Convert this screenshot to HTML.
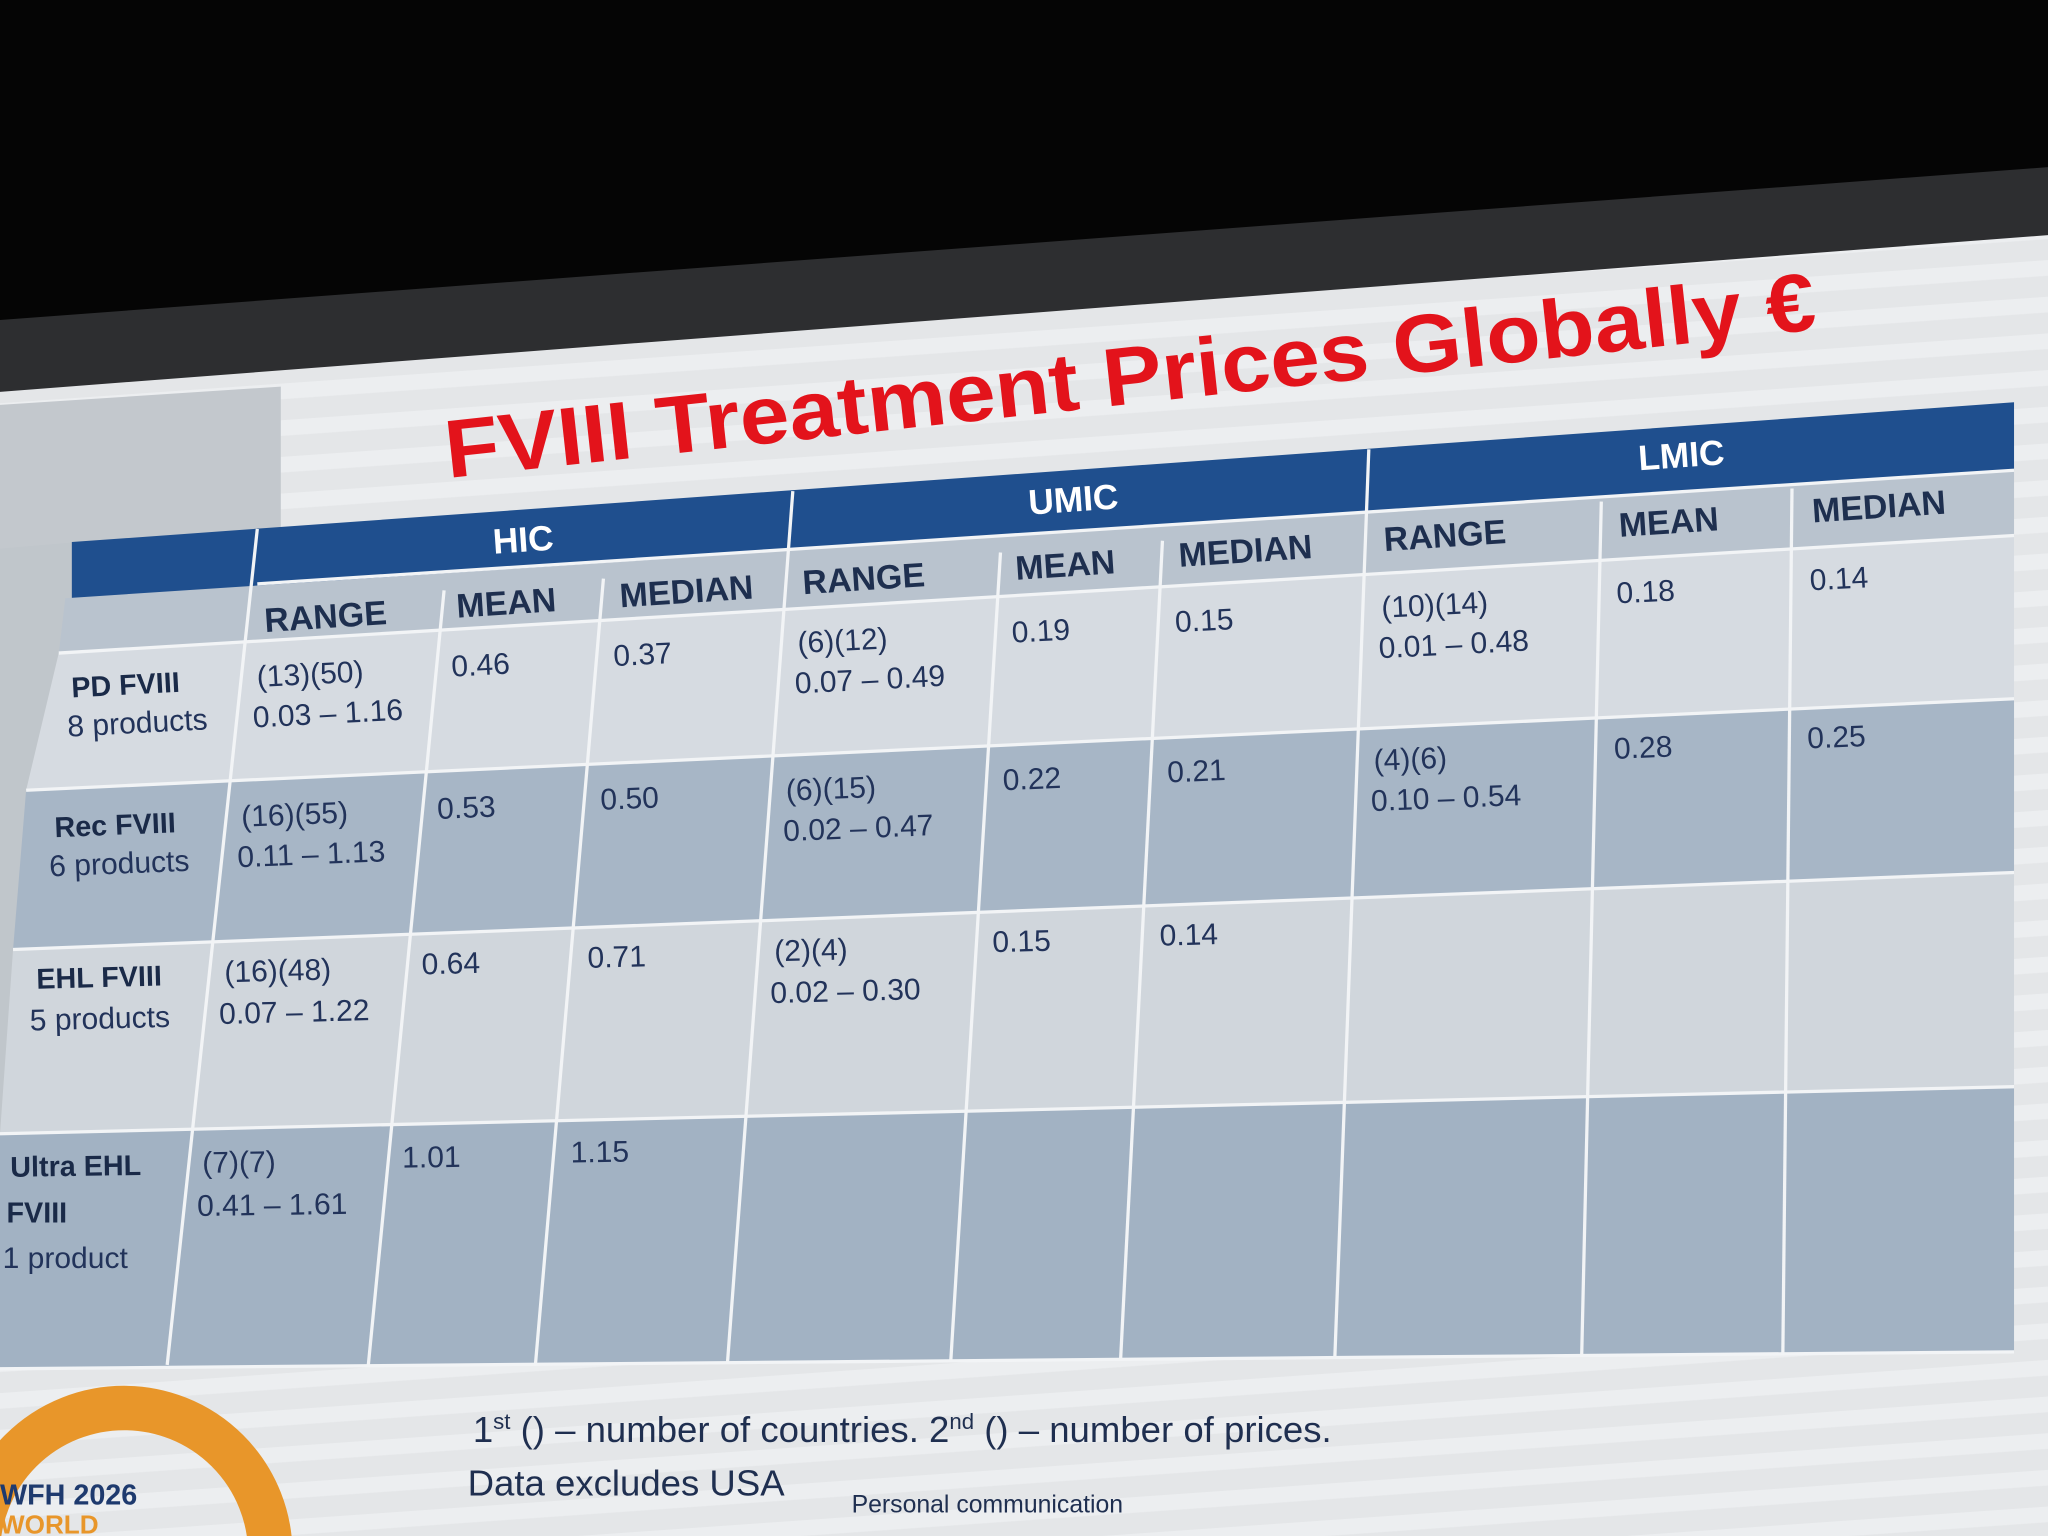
<!DOCTYPE html>
<html><head><meta charset="utf-8"><style>
html,body{margin:0;padding:0;background:#000;width:2048px;height:1536px;overflow:hidden}
svg{display:block}
text{font-family:"Liberation Sans","DejaVu Sans",sans-serif}
.h{fill:#fff;font-weight:bold;font-size:27px}
.s{fill:#1e2f4f;font-weight:bold;font-size:26px}
.c{fill:#22335a;font-size:23px}
.r{fill:#1a2a48;font-weight:bold;font-size:22px}
</style></head><body>
<svg width="2048" height="1536" viewBox="0 0 1568 1176" xmlns="http://www.w3.org/2000/svg">
<defs>
<pattern id="st" width="20" height="28" patternUnits="userSpaceOnUse" patternTransform="rotate(-4)">
<rect width="20" height="28" fill="#e4e6e8"/><rect y="0" width="20" height="12" fill="#eceef0"/>
</pattern>
</defs>
<rect width="1568" height="1176" fill="#050505"/>
<polygon points="0,245 1568,128 1568,190 0,312" fill="#2d2e30"/>
<polygon points="0,300 1568,180 1568,1176 0,1176" fill="url(#st)"/>
<polygon points="0,310 215,296 215,420 0,440" fill="#c3c8cd"/>
<polygon points="0,420 60,415 40,1045 0,1045" fill="#c0c6cb"/>
<text x="343" y="366" transform="rotate(-6.2 343 366)" font-size="63" font-weight="bold" fill="#e3131b" textLength="1055" lengthAdjust="spacingAndGlyphs">FVIII Treatment Prices Globally €</text>
<polygon points="55,415 1542,308 1542,360 55,458" fill="#1f4f8e"/>
<polygon points="50,458 1542,360 1542,410 45,500" fill="#b9c3ce"/>
<polygon points="45,500 1542,410 1542,535 20,605" fill="#d6dbe1"/>
<polygon points="20,605 1542,535 1542,668 10,727" fill="#a7b6c6"/>
<polygon points="10,727 1542,668 1542,832 0,868" fill="#d0d6dc"/>
<polygon points="0,868 1542,832 1542,1035 0,1048" fill="#a2b2c3"/>
<g stroke="#f2f4f6" stroke-width="2.5" fill="none">
<line x1="197" y1="447" x2="1542" y2="360"/>
<line x1="45" y1="500" x2="1542" y2="410"/>
<line x1="20" y1="605" x2="1542" y2="535"/>
<line x1="10" y1="727" x2="1542" y2="668"/>
<line x1="0" y1="868" x2="1542" y2="832"/>
<line x1="0" y1="1048" x2="1542" y2="1035"/>
<line x1="197" y1="405" x2="128" y2="1045"/>
<line x1="340" y1="452" x2="282" y2="1045"/>
<line x1="462" y1="443" x2="410" y2="1044"/>
<line x1="607" y1="376" x2="557" y2="1043"/>
<line x1="766" y1="423" x2="728" y2="1041"/>
<line x1="890" y1="414" x2="858" y2="1040"/>
<line x1="1048" y1="344" x2="1022" y2="1039"/>
<line x1="1226" y1="384" x2="1211" y2="1037"/>
<line x1="1372" y1="374" x2="1365" y2="1036"/>
</g>
<text class="h" x="378" y="424" transform="rotate(-4 378 424)">HIC</text>
<text class="h" x="788" y="394" transform="rotate(-4 788 394)">UMIC</text>
<text class="h" x="1255" y="360" transform="rotate(-4 1255 360)">LMIC</text>
<g class="s">
<text x="203" y="484" transform="rotate(-3.8 203 484)">RANGE</text>
<text x="350" y="473" transform="rotate(-3.8 350 473)">MEAN</text>
<text x="475" y="465" transform="rotate(-3.8 475 465)">MEDIAN</text>
<text x="615" y="455" transform="rotate(-3.8 615 455)">RANGE</text>
<text x="778" y="444" transform="rotate(-3.8 778 444)">MEAN</text>
<text x="903" y="434" transform="rotate(-3.8 903 434)">MEDIAN</text>
<text x="1060" y="422" transform="rotate(-3.8 1060 422)">RANGE</text>
<text x="1240" y="411" transform="rotate(-3.8 1240 411)">MEAN</text>
<text x="1388" y="400" transform="rotate(-3.8 1388 400)">MEDIAN</text>
</g>
<text class="r" x="55" y="534" transform="rotate(-3 55 534)">PD FVIII</text>
<text class="c" x="52" y="564" transform="rotate(-3 52 564)">8 products</text>
<text class="c" x="197" y="526" transform="rotate(-3 197 526)">(13)(50)</text>
<text class="c" x="194" y="557" transform="rotate(-3 194 557)">0.03 – 1.16</text>
<text class="c" x="346" y="518" transform="rotate(-3 346 518)">0.46</text>
<text class="c" x="470" y="510" transform="rotate(-3 470 510)">0.37</text>
<text class="c" x="611" y="500" transform="rotate(-3 611 500)">(6)(12)</text>
<text class="c" x="609" y="531" transform="rotate(-3 609 531)">0.07 – 0.49</text>
<text class="c" x="775" y="492" transform="rotate(-3 775 492)">0.19</text>
<text class="c" x="900" y="484" transform="rotate(-3 900 484)">0.15</text>
<text class="c" x="1058" y="473" transform="rotate(-3 1058 473)">(10)(14)</text>
<text class="c" x="1056" y="504" transform="rotate(-3 1056 504)">0.01 – 0.48</text>
<text class="c" x="1238" y="462" transform="rotate(-3 1238 462)">0.18</text>
<text class="c" x="1386" y="452" transform="rotate(-3 1386 452)">0.14</text>
<text class="r" x="42" y="641" transform="rotate(-2.3 42 641)">Rec FVIII</text>
<text class="c" x="38" y="671" transform="rotate(-2.3 38 671)">6 products</text>
<text class="c" x="185" y="633" transform="rotate(-2.3 185 633)">(16)(55)</text>
<text class="c" x="182" y="664" transform="rotate(-2.3 182 664)">0.11 – 1.13</text>
<text class="c" x="335" y="627" transform="rotate(-2.3 335 627)">0.53</text>
<text class="c" x="460" y="620" transform="rotate(-2.3 460 620)">0.50</text>
<text class="c" x="602" y="613" transform="rotate(-2.3 602 613)">(6)(15)</text>
<text class="c" x="600" y="644" transform="rotate(-2.3 600 644)">0.02 – 0.47</text>
<text class="c" x="768" y="605" transform="rotate(-2.3 768 605)">0.22</text>
<text class="c" x="894" y="599" transform="rotate(-2.3 894 599)">0.21</text>
<text class="c" x="1052" y="590" transform="rotate(-2.3 1052 590)">(4)(6)</text>
<text class="c" x="1050" y="621" transform="rotate(-2.3 1050 621)">0.10 – 0.54</text>
<text class="c" x="1236" y="581" transform="rotate(-2.3 1236 581)">0.28</text>
<text class="c" x="1384" y="573" transform="rotate(-2.3 1384 573)">0.25</text>
<text class="r" x="28" y="757" transform="rotate(-1.5 28 757)">EHL FVIII</text>
<text class="c" x="23" y="789" transform="rotate(-1.5 23 789)">5 products</text>
<text class="c" x="172" y="752" transform="rotate(-1.5 172 752)">(16)(48)</text>
<text class="c" x="168" y="784" transform="rotate(-1.5 168 784)">0.07 – 1.22</text>
<text class="c" x="323" y="746" transform="rotate(-1.5 323 746)">0.64</text>
<text class="c" x="450" y="741" transform="rotate(-1.5 450 741)">0.71</text>
<text class="c" x="593" y="736" transform="rotate(-1.5 593 736)">(2)(4)</text>
<text class="c" x="590" y="768" transform="rotate(-1.5 590 768)">0.02 – 0.30</text>
<text class="c" x="760" y="729" transform="rotate(-1.5 760 729)">0.15</text>
<text class="c" x="888" y="724" transform="rotate(-1.5 888 724)">0.14</text>
<text class="r" x="8" y="901" transform="rotate(-0.8 8 901)">Ultra EHL</text>
<text class="r" x="5" y="936">FVIII</text>
<text class="c" x="2" y="971">1 product</text>
<text class="c" x="155" y="898" transform="rotate(-0.8 155 898)">(7)(7)</text>
<text class="c" x="151" y="931" transform="rotate(-0.8 151 931)">0.41 – 1.61</text>
<text class="c" x="308" y="894" transform="rotate(-0.8 308 894)">1.01</text>
<text class="c" x="437" y="890" transform="rotate(-0.8 437 890)">1.15</text>
<text x="362" y="1104" font-size="28" fill="#1f2f50">1<tspan font-size="17" dy="-10">st</tspan><tspan dy="10"> () – number of countries. 2</tspan><tspan font-size="17" dy="-10">nd</tspan><tspan dy="10"> () – number of prices.</tspan></text>
<text x="358" y="1145" font-size="28" fill="#1f2f50">Data excludes USA</text>
<text x="652" y="1158" font-size="19" fill="#1f2f50">Personal communication</text>
<circle cx="95" cy="1190" r="112" fill="none" stroke="#e8962a" stroke-width="34"/>
<text x="0" y="1152" font-size="22" font-weight="bold" fill="#1e3a6e">WFH 2026</text>
<text x="0" y="1174" font-size="20" font-weight="bold" fill="#e8962a">WORLD</text>
</svg>
</body></html>
